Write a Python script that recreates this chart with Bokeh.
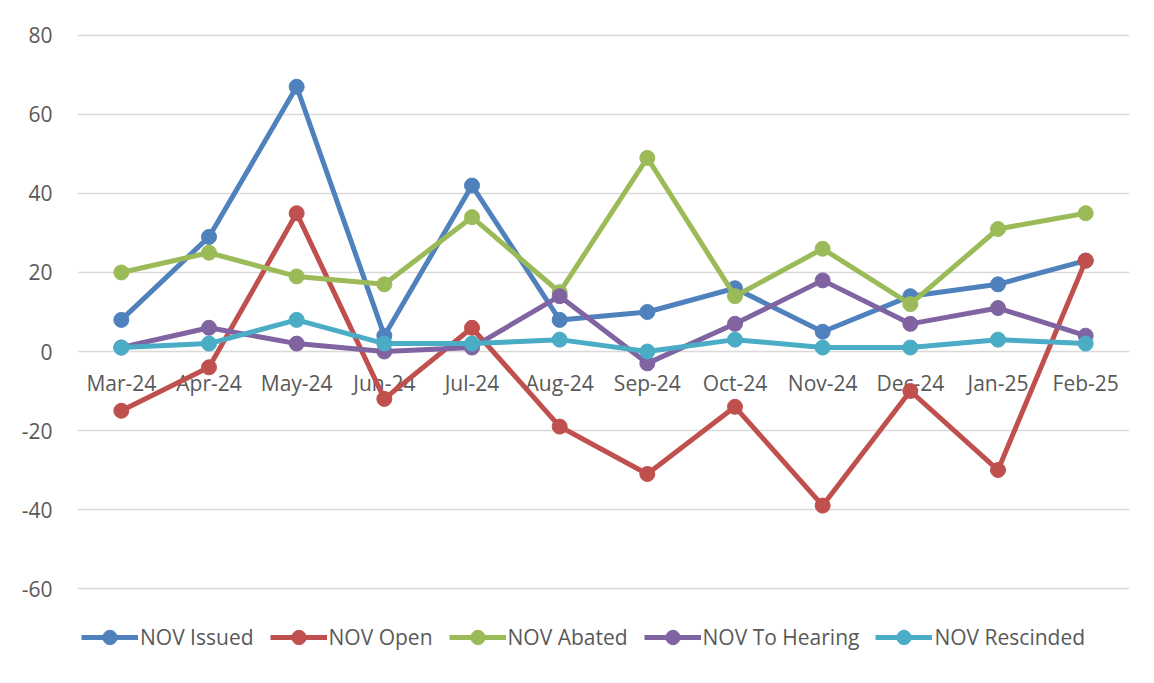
from bokeh.plotting import figure
from bokeh.models import (Range1d, FixedTicker, Legend, LegendItem,
                          ColumnDataSource, PrintfTickFormatter)
from bokeh.core.properties import value
from bokeh.embed import file_html
from bokeh.resources import INLINE

months = ["Mar-24", "Apr-24", "May-24", "Jun-24", "Jul-24", "Aug-24",
          "Sep-24", "Oct-24", "Nov-24", "Dec-24", "Jan-25", "Feb-25"]
nov_issued = [8, 29, 67, 4, 42, 8, 10, 16, 5, 14, 17, 23]
nov_open = [-15, -4, 35, -12, 6, -19, -31, -14, -39, -10, -30, 23]
nov_abated = [20, 25, 19, 17, 34, 15, 49, 14, 26, 12, 31, 35]
nov_hearing = [1, 6, 2, 0, 1, 14, -3, 7, 18, 7, 11, 4]
nov_rescinded = [1, 2, 8, 2, 2, 3, 0, 3, 1, 1, 3, 2]
y_ticks = [-60, -40, -20, 0, 20, 40, 60, 80]

series = [
    ("NOV Issued", nov_issued, "#4F81BD"),
    ("NOV Open", nov_open, "#C0504D"),
    ("NOV Abated", nov_abated, "#9BBB59"),
    ("NOV To Hearing", nov_hearing, "#8064A2"),
    ("NOV Rescinded", nov_rescinded, "#4BACC6"),
]

FONT = "Open Sans"
TXT = "#595959"

p = figure(x_range=months, y_range=Range1d(-82, 82), width=1150, height=680,
           output_backend="svg", toolbar_location=None,
           min_border_left=77, min_border_right=21, min_border_top=27,
           min_border_bottom=5)
p.outline_line_color = None
p.background_fill_color = "white"
p.border_fill_color = "white"

p.yaxis.ticker = FixedTicker(ticks=y_ticks)
p.yaxis.formatter = PrintfTickFormatter(format="%d")
p.yaxis.axis_line_color = None
p.yaxis.major_tick_line_color = None
p.yaxis.minor_tick_line_color = None
p.yaxis.major_label_standoff = 19
p.yaxis.major_label_text_font = FONT
p.yaxis.major_label_text_font_size = "21px"
p.yaxis.major_label_text_color = TXT

p.xaxis.visible = False

p.xgrid.grid_line_color = None
p.ygrid.grid_line_color = "#D9D9D9"
p.ygrid.grid_line_width = 1.5
p.ygrid.ticker = FixedTicker(ticks=y_ticks)

p.text(x=months, y=[0] * len(months), text=months, y_offset=31,
       text_align="center", text_baseline="middle",
       text_font=value(FONT), text_font_size="21px", text_color=TXT)

items = []
for name, vals, color in series:
    src = ColumnDataSource(dict(x=months, y=vals))
    l = p.line("x", "y", source=src, line_color=color, line_width=5)
    s = p.scatter("x", "y", source=src, size=15, fill_color=color, line_color=color)
    items.append(LegendItem(label=name, renderers=[l, s]))

legend = Legend(items=items, orientation="horizontal", location=(4, 20),
                glyph_width=57, glyph_height=36, label_standoff=2, spacing=16,
                padding=0, margin=0,
                label_text_font=FONT, label_text_font_size="21px",
                label_text_color=TXT, border_line_color=None,
                background_fill_alpha=0)
p.add_layout(legend, "center")

open("out.html", "w").write(file_html(p, INLINE))
